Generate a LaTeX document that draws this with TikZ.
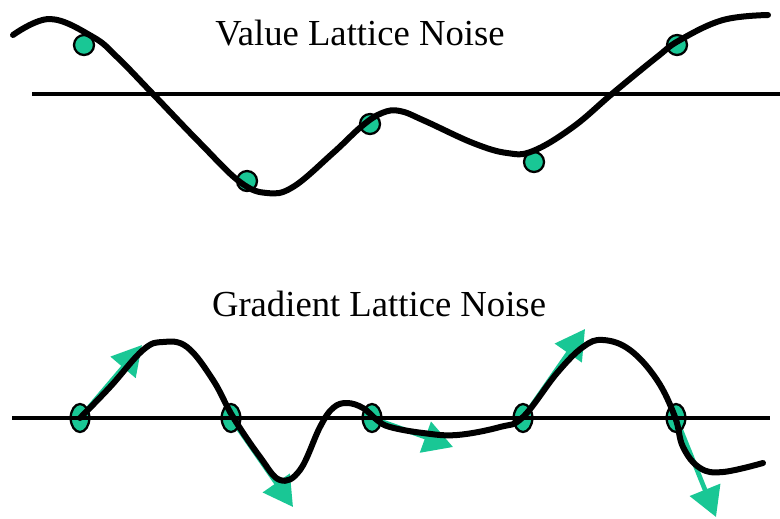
\documentclass[tikz,border=0pt]{standalone}
\usepackage{fontspec}
\setmainfont{Liberation Serif}
\usetikzlibrary{arrows.meta,shapes.geometric}
\definecolor{latteal}{HTML}{19C795}

\begin{document}
\begin{tikzpicture}[x=0.75pt,y=-0.75pt,
  curve/.style={line width=4.5pt,line join=round,line cap=round},
  axis/.style={line width=3.6pt},
  dot/.style={circle,draw,line width=1.7pt,fill=latteal,minimum size=15pt,inner sep=0pt},
  knot/.style={ellipse,draw,line width=1.7pt,fill=latteal,minimum width=14pt,minimum height=21pt,inner sep=0pt},
  grad/.style={-{Triangle[length=22pt,width=24pt]},line width=3.5pt,latteal},
  ttl/.style={font=\fontsize{27.5}{30}\selectfont,anchor=base}]
  \useasboundingbox (0,0) rectangle (780,518);
  % value lattice noise
  \node[ttl] (vtitle) at (360,45) {Value Lattice Noise};
  \node[dot] (v1) at (84,45) {};
  \node[dot] (v2) at (247,181) {};
  \node[dot] (v3) at (370,124) {};
  \node[dot] (v4) at (534,162) {};
  \node[dot] (v5) at (677,45) {};
  \coordinate (va) at (32,94);
  \coordinate (vb) at (780,94);
  \draw[axis] (va) -- (vb);
  \draw[curve] plot[smooth,tension=0.65] coordinates {(13,35) (50,19) (93,37) (117,57) (152,93)
    (200,143) (240,182) (267,193) (293,187) (333,153) (362,126) (382,113) (400,111) (425,121)
    (473,143) (507,153) (533,151) (573,127) (613,93) (657,57) (680,40) (723,20) (768,15)};
  % gradient lattice noise
  \node[ttl] (gtitle) at (379,316) {Gradient Lattice Noise};
  \coordinate (g1) at (142,345);
  \coordinate (g2) at (293,507);
  \coordinate (g3) at (453,447);
  \coordinate (g4) at (585,329);
  \coordinate (g5) at (716,517);
  \coordinate (k1) at (80,418);
  \coordinate (k2) at (231,418);
  \coordinate (k3) at (372,418);
  \coordinate (k4) at (523,418);
  \coordinate (k5) at (676,418);
  \foreach \i in {1,...,5} \draw[grad] (k\i) -- (g\i);
  \foreach \i in {1,...,5} \node[knot] (n\i) at (k\i) {};
  \coordinate (ga) at (12,418);
  \coordinate (gb) at (770,418);
  \draw[axis] (ga) -- (gb);
  \draw[curve] plot[smooth,tension=0.65] coordinates {(80,418) (110,387) (143,350) (163,342)
    (187,347) (213,380) (233,417) (260,457) (280,480) (300,470) (320,427) (333,408) (347,403)
    (363,408) (377,420) (390,427) (423,433) (457,435) (500,427) (523,417) (557,373) (583,347)
    (603,340) (630,350) (657,380) (675,417) (683,447) (700,468) (723,472) (763,463)};
\end{tikzpicture}
\end{document}
